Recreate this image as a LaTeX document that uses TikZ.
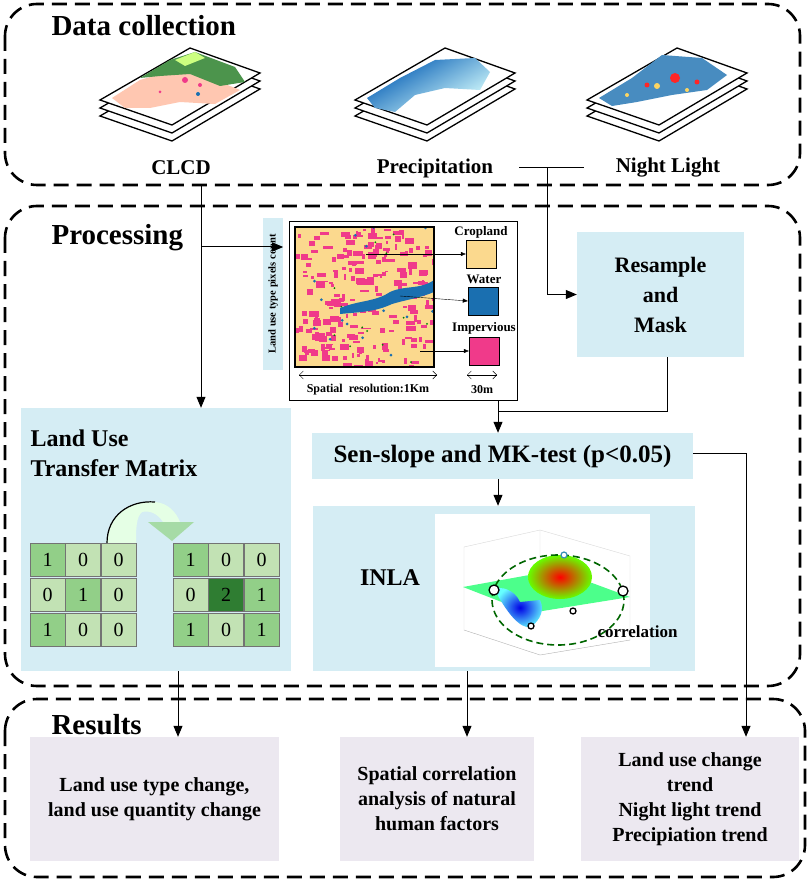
\documentclass[tikz,border=0pt]{standalone}
\usepackage{fontspec}
\setmainfont{Liberation Serif}
\usetikzlibrary{arrows.meta,calc}
\definecolor{boxblue}{HTML}{D5EDF4}
\definecolor{boxlav}{HTML}{ECE8F0}
\definecolor{crop}{HTML}{FBD98E}
\definecolor{water}{HTML}{1A6FB0}
\definecolor{imperv}{HTML}{F03A8A}
\definecolor{gl}{HTML}{C2E2B4}
\definecolor{gm}{HTML}{92CF88}
\definecolor{gd}{HTML}{2F7D32}
\begin{document}
\begin{tikzpicture}[x=1pt,y=-1pt,
  group/.style={draw,line width=2.6pt,dash pattern=on 15pt off 8pt,rounded corners=32pt},
  title/.style={font=\fontsize{29}{32}\selectfont\bfseries,anchor=west},
  lbl/.style={font=\fontsize{21}{24}\selectfont\bfseries},
  bluebox/.style={fill=boxblue,inner sep=0pt,font=\fontsize{22}{26}\selectfont\bfseries,align=center},
  resbox/.style={fill=boxlav,inner sep=0pt,minimum height=124pt,font=\fontsize{20}{25}\selectfont\bfseries,align=center},
  arr/.style={line width=1pt,-{Triangle[length=11pt,width=9pt]}},
  ln/.style={line width=1pt},
  cell/.style={draw=black!55,minimum width=35pt,minimum height=33pt,inner sep=0pt,font=\fontsize{20}{20}\selectfont},
  layer/.style={draw,line width=1.3pt,fill=white}]
\useasboundingbox (0,0) rectangle (809,882);

% group frames
\draw[group] (5,4) rectangle (800,185);
\draw[group] (5,206) rectangle (800,686);
\draw[group] (5,699) rectangle (805,877);
\node[title] (tdata) at (48,26) {Data collection};
\node[title] (tproc) at (48,238) {Processing};
\node[title] (tres) at (48,725) {Results};

% data stacks
\foreach \sx/\name in {100/clcd,355/prec,587/night}{
  \begin{scope}[shift={(\sx,100)}]
    \foreach \dy in {16,8,0}
      \draw[layer] (0,\dy) -- (90,-52+\dy) -- (160,-27+\dy) -- (72,25+\dy) -- cycle;
  \end{scope}
}
% CLCD content
\begin{scope}[shift={(100,100)}]
  \fill[orange!25!pink!70!white] (12,-2) -- (40,-20) -- (75,-30) -- (120,-18) -- (140,-10) -- (115,4) -- (80,2) -- (50,8) -- (25,8) -- cycle;
  \fill[green!40!black!70] (40,-22) -- (70,-40) -- (95,-48) -- (135,-33) -- (145,-18) -- (120,-14) -- (90,-26) -- (60,-24) -- cycle;
  \fill[green!40!yellow!50] (75,-40) -- (95,-48) -- (105,-42) -- (85,-34) -- cycle;
  \fill[imperv] (85,-20) circle (3pt) (100,-15) circle (2pt) (60,-8) circle (1.5pt);
  \fill[water] (98,-6) circle (2pt);
\end{scope}
% Precipitation content
\begin{scope}[shift={(355,100)}]
  \shade[left color=blue!50!cyan!70!black,right color=cyan!15!white,shading angle=30]
    (12,-2) -- (45,-22) -- (80,-40) -- (120,-42) -- (135,-28) -- (125,-10) -- (90,-12) -- (60,-5) -- (40,12) -- (20,8) -- cycle;
\end{scope}
% Night light content
\begin{scope}[shift={(587,100)}]
  \fill[water!80!white] (12,-2) -- (45,-22) -- (75,-45) -- (115,-42) -- (140,-25) -- (120,-10) -- (85,-5) -- (50,2) -- (25,6) -- cycle;
  \fill[red!85] (88,-22) circle (5pt) (60,-15) circle (2.5pt) (110,-18) circle (2.5pt);
  \fill[yellow!50!orange!60] (70,-14) circle (3pt) (100,-10) circle (2pt) (40,-5) circle (2pt);
\end{scope}
\node[lbl] (clcd) at (181,168) {CLCD};
\node[lbl] (prec) at (435,168) {Precipitation};
\node[lbl] (night) at (668,168) {Night Light};

% processing boxes
\node[bluebox,rotate=90,minimum width=152pt,minimum height=20pt,font=\fontsize{10.5}{12}\selectfont\bfseries] (strip) at (273,294) {Land use type pixels count};
\node[draw,line width=0.8pt,fill=white,minimum width=228pt,minimum height=179pt,inner sep=0pt] (imgbox) at (403,310.5) {};
\node[bluebox,minimum width=167pt,minimum height=125pt] (resample) at (660.5,294.5) {Resample\\[4pt]and\\[4pt]Mask};
\node[bluebox,minimum width=381pt,minimum height=46pt,font=\fontsize{25}{28}\selectfont\bfseries] (sen) at (502.5,456) {Sen-slope and MK-test (p<0.05)};
\node[bluebox,minimum width=382pt,minimum height=165pt] (inla) at (504,588.5) {};
\node[bluebox,minimum width=270pt,minimum height=263pt] (landuse) at (155.5,539.5) {};
\node[font=\fontsize{24}{30}\selectfont\bfseries,align=left,anchor=west] (lutitle) at (27,453) {Land Use\\Transfer Matrix};
\node[font=\fontsize{24}{26}\selectfont\bfseries] (inlat) at (390,578) {INLA};

% land use map
\fill[crop] (295,227) rectangle (434,367);
\begin{scope}
  \clip (295,227) rectangle (434,367);
  \pgfmathsetseed{7}
  \foreach \i in {1,...,230}{
    \pgfmathsetmacro{\px}{295+139*rnd}
    \pgfmathsetmacro{\py}{227+140*rnd}
    \pgfmathsetmacro{\pw}{2+8*rnd}
    \pgfmathsetmacro{\ph}{1.5+5*rnd}
    \fill[imperv] (\px,\py) rectangle ++(\pw,\ph);
  }
  \foreach \i in {1,...,15}{
    \pgfmathsetmacro{\px}{295+139*rnd}
    \pgfmathsetmacro{\py}{227+140*rnd}
    \fill[water] (\px,\py) circle (1.5pt);
    \fill[green!50!black] (\px+20,\py+7) circle (1pt);
  }
  \fill[water] (340,308) .. controls (360,300) and (375,302) .. (390,292) .. controls (405,285) and (420,290) .. (434,280)
    -- (434,292) .. controls (420,298) and (405,300) .. (392,304) .. controls (375,312) and (360,312) .. (340,314) -- cycle;
\end{scope}
\draw[line width=1.4pt] (295,227) rectangle (434,367);
\node[draw,fill=crop,minimum width=30pt,minimum height=28pt,inner sep=0pt] (sq1) at (481,254) {};
\node[draw,fill=water,minimum width=30pt,minimum height=28pt,inner sep=0pt] (sq2) at (483,301) {};
\node[draw,fill=imperv,minimum width=30pt,minimum height=28pt,inner sep=0pt] (sq3) at (484,351) {};
\node[font=\fontsize{13}{15}\selectfont\bfseries] (l1) at (481,232) {Cropland};
\node[font=\fontsize{13}{15}\selectfont\bfseries] (l2) at (484,279) {Water};
\node[font=\fontsize{13}{15}\selectfont\bfseries] (l3) at (484,328) {Impervious};
\coordinate (m1) at (366,254);
\coordinate (m2) at (400,296);
\coordinate (m3) at (420,351);
\draw[-{Triangle[length=5pt,width=4pt]}] (m1) -- (sq1.west);
\draw[-{Triangle[length=5pt,width=4pt]}] (m2) -- (sq2.west);
\draw[-{Triangle[length=5pt,width=4pt]}] (m3) -- (sq3.west);
\coordinate (s1) at (299,375); \coordinate (s2) at (437,375);
\coordinate (t1) at (467,375); \coordinate (t2) at (497,375);
\draw[{Straight Barb[length=4pt]}-{Straight Barb[length=4pt]}] (s1) -- (s2);
\draw[{Straight Barb[length=4pt]}-{Straight Barb[length=4pt]}] (t1) -- (t2);
\node[font=\fontsize{12}{14}\selectfont\bfseries] (sres) at (368,390) {Spatial\ \ resolution:1Km};
\node[font=\fontsize{12}{14}\selectfont\bfseries] (s30) at (482,390) {30m};

% transfer matrices
\foreach \v [count=\k from 0] in {1,0,0,0,1,0,1,0,0}{
  \pgfmathtruncatemacro{\r}{\k/3}\pgfmathtruncatemacro{\c}{mod(\k,3)}
  \ifnum\v=1 \def\cc{gm}\else\def\cc{gl}\fi
  \node[cell,fill=\cc] (a\k) at ({47.5+35.5*\c},{559.5+35*\r}) {\v};
}
\foreach \v [count=\k from 0] in {1,0,0,0,2,1,1,0,1}{
  \pgfmathtruncatemacro{\r}{\k/3}\pgfmathtruncatemacro{\c}{mod(\k,3)}
  \ifcase\v \def\cc{gl}\or\def\cc{gm}\else\def\cc{gd}\fi
  \node[cell,fill=\cc] (b\k) at ({190.5+35.5*\c},{559.5+35*\r}) {\v};
}
% curved arrow
\fill[green!10!white] (107,543) .. controls (107,515) and (130,500) .. (155,502)
  .. controls (168,503) and (176,512) .. (180,522) -- (163,522)
  .. controls (158,514) and (150,510) .. (142,512) .. controls (136,517) and (136,530) .. (136,543) -- cycle;
\draw[line width=1.2pt] (107,543) .. controls (107,515) and (130,500) .. (155,502);
\fill[green!60!black!35!white] (148,522) -- (194,522) -- (172,541) -- cycle;

% 3D plot
\fill[white] (435,514) rectangle (650,667);
\draw[black!15] (464,547) -- (540,530) -- (630,556) (540,530) -- (540,620) (464,547) -- (464,630) (630,556) -- (630,640);
\draw[black!30] (464,630) -- (540,655) -- (630,640);
\fill[green!65!cyan!70] (463,587) -- (557,570) -- (630,597) -- (530,613) -- cycle;
\shade[inner color=red,outer color=green!60!yellow] (560,577) ellipse (32pt and 22pt);
\shade[inner color=blue!90!black,outer color=cyan!60] (520,602) .. controls (515,590) and (500,585) .. (495,590)
  .. controls (505,610) and (520,630) .. (531,627) .. controls (540,620) and (545,610) .. (540,600) -- cycle;
\draw[green!40!black,line width=1.6pt,dash pattern=on 7pt off 4pt] (558,600) ellipse (66pt and 45pt);
\foreach \p/\rr in {{494,590}/5,{623,591}/5,{531,626}/3,{573,611}/3}
  \draw[fill=white,line width=1.3pt] (\p) circle (\rr pt);
\draw[cyan!70!black,fill=white,line width=1.2pt] (564,555) circle (3pt);
\node[font=\fontsize{17}{19}\selectfont\bfseries,anchor=west] (corr) at (594,632) {correlation};

% results
\node[resbox,minimum width=249pt] (r1) at (154.5,799) {Land use type change,\\land use quantity change};
\node[resbox,minimum width=194pt] (r2) at (437,799) {Spatial correlation\\analysis of natural\\human factors};
\node[resbox,minimum width=218pt] (r3) at (690,799) {Land use change\\trend\\Night light trend\\Precipiation trend};

% connectors
\coordinate (c0) at (201,185);
\coordinate (c1) at (201,247);
\draw[arr] (c0) -- (c0 |- landuse.north);
\draw[arr] (c1) -- (c1 -| strip.south);
\coordinate (p0) at (519,168); \coordinate (p1) at (584,168); \coordinate (p2) at (547,168);
\draw[ln] (p0) -- (p1);
\draw[arr] (p2) |- (resample.west);
\coordinate (j) at (498,411);
\draw[ln] (imgbox.south -| j) -- (j);
\draw[ln] (resample.south -| 667,0) |- (j);
\draw[arr] (j) -- (sen.north -| j);
\draw[arr] (sen.south -| j) -- (inla.north -| j);
\coordinate (e1) at (746,453);
\draw[arr] (sen.east |- e1) -- (e1) -- (r3.north -| e1);
\coordinate (d1) at (178,0); \coordinate (d2) at (467,0);
\draw[arr] (landuse.south -| d1) -- (r1.north -| d1);
\draw[arr] (inla.south -| d2) -- (r2.north -| d2);
\end{tikzpicture}
\end{document}
